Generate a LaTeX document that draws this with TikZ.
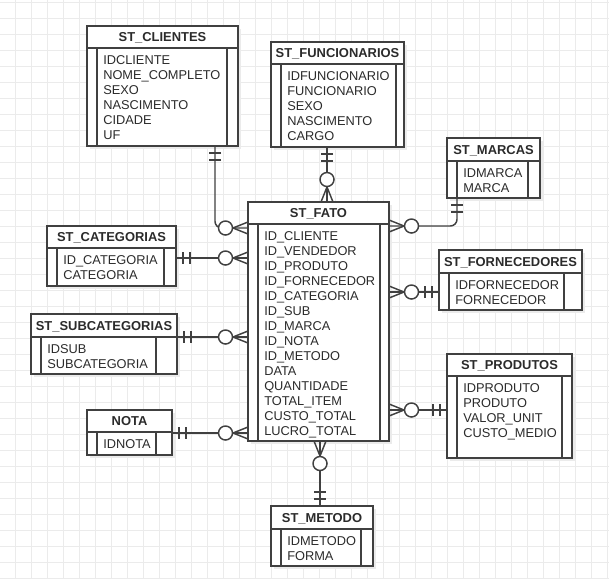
\documentclass[tikz,border=0pt]{standalone}
\usepackage{fontspec}
\setmainfont{Liberation Sans}
\usetikzlibrary{calc}
\definecolor{gridc}{HTML}{EBEBEB}
\definecolor{linec}{HTML}{404040}
\definecolor{textc}{HTML}{2B2B2B}
\tikzset{
  gridline/.style={draw=gridc, line width=0.75pt},
  boxline/.style={draw=linec, line width=1.3pt},
  box/.style={draw=linec, line width=1.3pt, fill=white, inner sep=0pt, outer sep=0pt},
  shadowc/.style={fill=black!8},
  hdr/.style={inner sep=0pt, text=textc, font=\fontsize{9.7}{11}\selectfont\bfseries},
  rowtxt/.style={inner sep=0pt, text=textc, font=\fontsize{9.6}{11}\selectfont},
  conn/.style={draw=linec, line width=1.1pt},
  zmany/.pic={
    \draw[conn] (0,-6) -- (15,0) -- (0,6);
    \draw[conn, fill=white] (22.5,0) circle[radius=5.25pt];
  },
  mone/.pic={
    \draw[conn] (7,-6) -- (7,6) (14,-6) -- (14,6);
  }
}
% #1 name, #2 x1, #3 y1, #4 x2, #5 header bottom, #6 bottom, #7 inner right x, #8 title, #9 rows
\newcommand{\ertable}[9]{%
  \fill[shadowc] (#2+3,#3+3) rectangle (#4+3,#6+3);
  \node[box, minimum width={(#4-#2)*0.75pt}, minimum height={(#6-#3)*0.75pt}, anchor=north west] (#1) at (#2,#3) {};
  \draw[boxline] (#2,#5) -- (#4,#5);
  \draw[boxline] (#2+10,#5) -- (#2+10,#6);
  \draw[boxline] (#7,#5) -- (#7,#6);
  \node[hdr, anchor=base] (#1h) at ({(#2+#4)/2},{(#3+#5)/2+4.5}) {#8};
  \foreach \r [count=\i from 0] in {#9} \node[rowtxt, anchor=base west] (#1r\i) at (#2+16,#5+16+15*\i) {\r};
}
\begin{document}
\begin{tikzpicture}[x=0.75pt,y=-0.75pt]
\useasboundingbox (0,0) rectangle (609,579);
\fill[white] (0,0) rectangle (609,579);
\foreach \k in {0,...,37} \draw[gridline] (15.5+16*\k,0) -- (15.5+16*\k,579);
\foreach \k in {0,...,36} \draw[gridline] (0,2.5+16*\k) -- (609,2.5+16*\k);

\ertable{clientes}{87}{26}{238}{48}{146}{227}{ST\_CLIENTES}{IDCLIENTE,NOME\_COMPLETO,SEXO,NASCIMENTO,CIDADE,UF}
\ertable{func}{271}{42}{404}{64}{147}{396}{ST\_FUNCIONARIOS}{IDFUNCIONARIO,FUNCIONARIO,SEXO,NASCIMENTO,CARGO}
\ertable{marcas}{447}{138}{540}{161}{198}{528}{ST\_MARCAS}{IDMARCA,MARCA}
\ertable{fato}{248}{202}{389}{224}{441}{380}{ST\_FATO}{ID\_CLIENTE,ID\_VENDEDOR,ID\_PRODUTO,ID\_FORNECEDOR,ID\_CATEGORIA,ID\_SUB,ID\_MARCA,ID\_NOTA,ID\_METODO,DATA,QUANTIDADE,TOTAL\_ITEM,CUSTO\_TOTAL,LUCRO\_TOTAL}
\ertable{cat}{47}{226}{176}{248}{286}{164}{ST\_CATEGORIAS}{ID\_CATEGORIA,CATEGORIA}
\ertable{forn}{439}{250}{582}{273}{310}{564}{ST\_FORNECEDORES}{IDFORNECEDOR,FORNECEDOR}
\ertable{subcat}{31}{314}{177}{337}{374}{156}{ST\_SUBCATEGORIAS}{IDSUB,SUBCATEGORIA}
\ertable{prod}{447}{354}{572}{376}{458}{562}{ST\_PRODUTOS}{IDPRODUTO,PRODUTO,VALOR\_UNIT,CUSTO\_MEDIO}
\ertable{nota}{87}{410}{172}{432}{455}{156}{NOTA}{IDNOTA}
\ertable{metodo}{271}{506}{373}{529}{566}{361}{ST\_METODO}{IDMETODO,FORMA}

% connector end points
\coordinate (a1) at ($(clientes.south west)+(128,0)$);
\coordinate (b1) at ($(fato.north west)+(0,26)$);
\coordinate (a2) at ($(func.south west)+(56,0)$);
\coordinate (b2) at ($(fato.north west)+(79,0)$);
\coordinate (a3) at ($(marcas.south west)+(10,0)$);
\coordinate (b3) at ($(fato.north east)+(0,24)$);
\coordinate (a4) at ($(cat.north east)+(0,32)$);
\coordinate (b4) at ($(fato.north west)+(0,56)$);
\coordinate (a5) at ($(subcat.north east)+(0,23)$);
\coordinate (b5) at ($(fato.north west)+(0,135)$);
\coordinate (a6) at ($(nota.north east)+(0,23)$);
\coordinate (b6) at ($(fato.north west)+(0,231)$);
\coordinate (a7) at ($(forn.north west)+(0,42)$);
\coordinate (b7) at ($(fato.north east)+(0,90)$);
\coordinate (a8) at ($(prod.north west)+(0,56)$);
\coordinate (b8) at ($(fato.north east)+(0,208)$);
\coordinate (a9) at ($(metodo.north west)+(49,0)$);
\coordinate (b9) at ($(fato.south west)+(72,0)$);

\draw[conn, rounded corners=5pt] (a1) |- (b1);
\draw[conn] (a2) -- (b2);
\draw[conn, rounded corners=5pt] (a3) |- (b3);
\draw[conn] (a4) -- (b4);
\draw[conn] (a5) -- (b5);
\draw[conn] (a6) -- (b6);
\draw[conn] (a7) -- (b7);
\draw[conn] (a8) -- (b8);
\draw[conn] (a9) -- (b9);

\pic[rotate=-90] at (a1) {mone};
\pic[rotate=180] at (b1) {zmany};
\pic[rotate=-90] at (a2) {mone};
\pic[rotate=90] at (b2) {zmany};
\pic[rotate=-90] at (a3) {mone};
\pic at (b3) {zmany};
\pic at (a4) {mone};
\pic[rotate=180] at (b4) {zmany};
\pic at (a5) {mone};
\pic[rotate=180] at (b5) {zmany};
\pic at (a6) {mone};
\pic[rotate=180] at (b6) {zmany};
\pic[rotate=180] at (a7) {mone};
\pic at (b7) {zmany};
\pic[rotate=180] at (a8) {mone};
\pic at (b8) {zmany};
\pic[rotate=90] at (a9) {mone};
\pic[rotate=-90] at (b9) {zmany};
\end{tikzpicture}
\end{document}
